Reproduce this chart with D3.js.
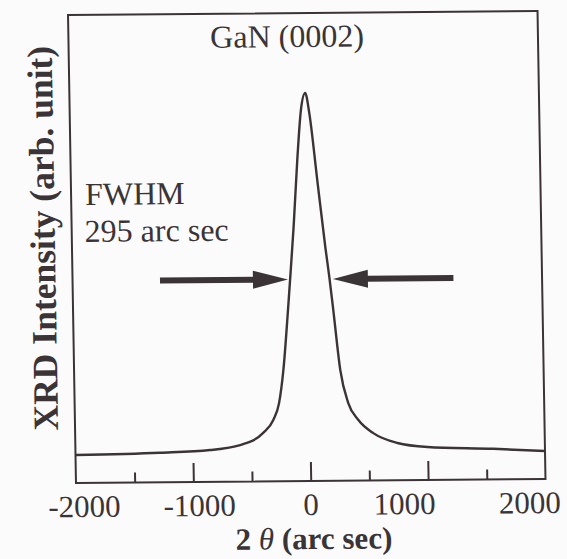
<!DOCTYPE html>
<html>
<head>
<meta charset="utf-8">
<script src="https://cdn.jsdelivr.net/npm/d3@7"></script>
<style>
  html, body { margin: 0; padding: 0; background: #fcfbfc; }
  svg { display: block; }
  text { font-family: "Liberation Serif", "Times New Roman", serif; fill: #3a3437; }
</style>
</head>
<body>
<svg id="chart" width="567" height="559"></svg>
<script>
// GaN (0002) XRD rocking curve
const angle = [-2000, -1279, -853, -596, -398, -310, -258, -217, -169, -147, -109, -68, -30, 9, 41, 99, 158, 188, 217, 268, 331, 415, 540, 744, 999, 1562, 2000];
const intensity = [0.072, 0.076, 0.082, 0.094, 0.125, 0.158, 0.202, 0.286, 0.441, 0.518, 0.655, 0.828, 0.956, 1.0, 0.948, 0.776, 0.603, 0.525, 0.440, 0.285, 0.200, 0.156, 0.122, 0.096, 0.085, 0.079, 0.072];

const majorTicks = [-2000, -1000, 0, 1000, 2000];
const minorTicks = [-1500, -500, 500, 1500];
const tickLabels = ["-2000", "-1000", "0", "1000", "2000"];

// FWHM arrows: [tail, tip] in arc sec, at half maximum
const arrowLeft = [-1255, -165];
const arrowRight = [1245, 218];
const halfMax = 0.52;

const svg = d3.select("#chart");
const plotL = 72, plotR = 541.5, plotT = 13, plotB = 481;

const x = d3.scaleLinear().domain([-2000, 2000]).range([plotL, plotR]);
const y = d3.scaleLinear().domain([0, 1.206]).range([plotB, plotT]);

// the scanned figure sits slightly skewed on the page
const sx = 0.017, sy = -0.0085, cx = 307, cy = 247;
const g = svg.append("g")
  .attr("transform", `matrix(1, ${sy}, ${sx}, 1, ${-sx * cy}, ${-sy * cx})`);

const ink = "#3a3437";

// frame
g.append("rect")
  .attr("x", plotL).attr("y", plotT)
  .attr("width", plotR - plotL).attr("height", plotB - plotT)
  .attr("fill", "none").attr("stroke", ink).attr("stroke-width", 2);

// ticks pointing into the plot
const labelNudge = { "-2000": 8, "-1000": 6, "0": 0, "1000": -24, "2000": -16 };
const axisMajor = d3.axisBottom(x).tickValues(majorTicks.slice(1, -1)).tickSizeInner(-19).tickSizeOuter(0).tickFormat("");
const axisMinor = d3.axisBottom(x).tickValues(minorTicks).tickSizeInner(-10).tickSizeOuter(0).tickFormat("");
[axisMajor, axisMinor].forEach(ax => {
  const a = g.append("g").attr("transform", `translate(0,${plotB})`).call(ax);
  a.select(".domain").remove();
  a.selectAll(".tick line").attr("stroke", ink).attr("stroke-width", 2);
});

g.append("g").selectAll("text")
  .data(majorTicks)
  .join("text")
  .attr("x", (d) => x(d) + labelNudge[String(d)])
  .attr("y", plotB + 34)
  .attr("text-anchor", "middle")
  .attr("font-size", 31)
  .text((d, i) => tickLabels[i]);

// curve
const line = d3.line()
  .x((d, i) => x(angle[i]))
  .y((d) => y(d))
  .curve(d3.curveMonotoneX);

g.append("path")
  .datum(intensity)
  .attr("d", line)
  .attr("fill", "none")
  .attr("stroke", ink)
  .attr("stroke-width", 2.4)
  .attr("stroke-linejoin", "round");

// arrows
function arrow(pair) {
  const [tail, tip] = pair;
  const x0 = x(tail), x1 = x(tip), yy = y(halfMax);
  const dir = Math.sign(x1 - x0);
  const headLen = 35, headHalf = 9;
  g.append("line")
    .attr("x1", x0).attr("y1", yy)
    .attr("x2", x1 - dir * headLen + dir * 2).attr("y2", yy)
    .attr("stroke", ink).attr("stroke-width", 6);
  g.append("path")
    .attr("d", `M${x1},${yy} L${x1 - dir * headLen},${yy - headHalf} L${x1 - dir * headLen},${yy + headHalf} Z`)
    .attr("fill", ink);
}
arrow(arrowLeft);
arrow(arrowRight);

// annotations
g.append("text")
  .attr("x", 290.6).attr("y", 47)
  .attr("text-anchor", "middle")
  .attr("font-size", 32)
  .text("GaN (0002)");

g.append("text")
  .attr("x", 86).attr("y", 203)
  .attr("font-size", 32)
  .text("FWHM");

g.append("text")
  .attr("x", 85).attr("y", 240)
  .attr("font-size", 32)
  .text("295 arc sec");

// axis titles
const xt = g.append("text")
  .attr("x", 309).attr("y", 549)
  .attr("text-anchor", "middle")
  .attr("font-size", 31)
  .attr("font-weight", "bold");
xt.append("tspan").text("2 ");
xt.append("tspan").attr("font-style", "italic").attr("font-weight", "normal").text("θ");
xt.append("tspan").text(" (arc sec)");

g.append("text")
  .attr("transform", "translate(55,236) rotate(-90)")
  .attr("text-anchor", "middle")
  .attr("font-size", 35.5)
  .attr("font-weight", "bold")
  .text("XRD Intensity (arb. unit)");
</script>
</body>
</html>
